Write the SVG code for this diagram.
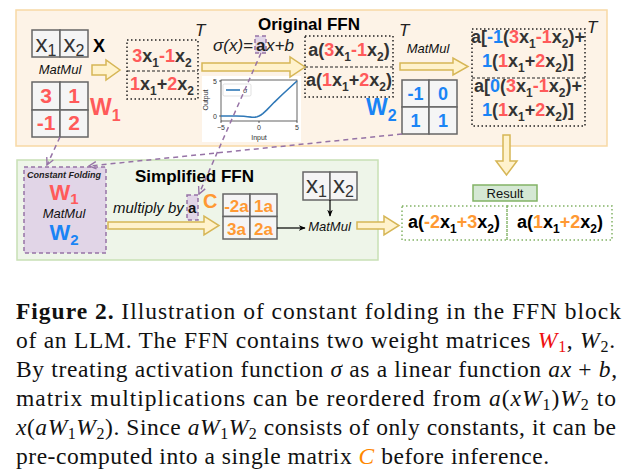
<svg xmlns="http://www.w3.org/2000/svg" width="630" height="476" viewBox="0 0 630 476">
<defs>
<style>
.panelTop{fill:#fdf3e7;stroke:#f7d9a5;stroke-width:1.5}
.panelBot{fill:#eef5e9;stroke:#c8e0b5;stroke-width:1.5}
.cell{fill:#f5f5f5;stroke:#666;stroke-width:1.5}
.dot{fill:none;stroke:#222;stroke-width:1.5;stroke-dasharray:1.5 2.5}
.dash{fill:none;stroke:#222;stroke-width:1.2;stroke-dasharray:3 2}
.gdot{fill:none;stroke:#82b366;stroke-width:1.5;stroke-dasharray:1.5 2.5}
.yarrow{fill:#fff2cc;stroke:#d6b656;stroke-width:1.5}
.purp{fill:#e1d5e7;stroke:#9673a6;stroke-width:1.5;stroke-dasharray:4 3}
.conn{fill:none;stroke:#9673a6;stroke-width:1.5;stroke-dasharray:5 4}
.blk{fill:none;stroke:#000;stroke-width:1.2}
text{font-family:"Liberation Sans",Arial,sans-serif}
.eq{font-size:18px;font-weight:bold;fill:#333}
.res{font-size:18px;font-weight:bold;fill:#000}
.xm{font-size:24px;fill:#333}
.r{fill:#ff5a5a}.b{fill:#1a84f5}.o{fill:#ff9933}
.mm{font-size:13px;font-style:italic;fill:#111}
.ttl{font-size:17px;font-weight:bold;fill:#000}
.tt{font-size:17px;font-style:italic;fill:#222}
.tick{font-size:7px;fill:#333}
text.cap{font-family:"Liberation Serif","Times New Roman",serif;font-size:23.5px;fill:#111}
.ci{font-style:italic}
</style>
<marker id="openP" viewBox="0 0 10 10" refX="9" refY="5" markerWidth="9" markerHeight="9" markerUnits="userSpaceOnUse" orient="auto">
<path d="M1,1 L9,5 L1,9" fill="none" stroke="#9673a6" stroke-width="1.5"/>
</marker>
<marker id="blkA" viewBox="0 0 10 10" refX="9" refY="5" markerWidth="7" markerHeight="7" markerUnits="userSpaceOnUse" orient="auto">
<path d="M0,1 L10,5 L0,9 L3,5 Z" fill="#000"/>
</marker>
</defs>

<g id="original-ffn-panel">
<rect class="panelTop" x="16" y="10" width="591" height="136"/>
<text class="ttl" x="258" y="30">Original FFN</text>
</g>
<g id="simplified-ffn-panel">
<rect class="panelBot" x="17" y="160" width="361" height="100"/>
<text class="ttl" x="135" y="182">Simplified FFN</text>
</g>

<g id="matrix-x">
<rect class="cell" x="32" y="30" width="28" height="27"/>
<rect class="cell" x="60" y="30" width="28" height="27"/>
<text class="xm" x="46" y="52" text-anchor="middle">x<tspan font-size="16" dy="4">1</tspan></text>
<text class="xm" x="74" y="52" text-anchor="middle">x<tspan font-size="16" dy="4">2</tspan></text>
<text x="93" y="52" font-size="18" font-weight="bold" fill="#000">X</text>
<text class="mm" x="60" y="74" text-anchor="middle">MatMul</text>
</g>

<g id="matrix-w1">
<rect class="cell" x="32" y="82" width="28" height="28"/>
<rect class="cell" x="60" y="82" width="28" height="28"/>
<rect class="cell" x="32" y="110" width="28" height="27"/>
<rect class="cell" x="60" y="110" width="28" height="27"/>
<g font-size="21" font-weight="bold" text-anchor="middle">
<text class="r" x="46" y="103">3</text>
<text class="r" x="74" y="103">1</text>
<text class="r" x="46" y="130">-1</text>
<text class="r" x="74" y="130">2</text>
</g>
<text class="r" x="90" y="115" font-size="23" font-weight="bold">W<tspan font-size="16" dy="6">1</tspan></text>
</g>

<g id="box-xw1">
<rect class="dot" x="127" y="40" width="71" height="59"/>
<line class="dash" x1="127" y1="71" x2="198" y2="71"/>
<text class="eq" x="162" y="62" text-anchor="middle"><tspan class="r">3</tspan>x<tspan font-size="12" dy="5">1</tspan><tspan class="r" dy="-5">-1</tspan>x<tspan font-size="12" dy="5">2</tspan></text>
<text class="eq" x="162" y="90" text-anchor="middle"><tspan class="r">1</tspan>x<tspan font-size="12" dy="5">1</tspan><tspan dy="-5">+</tspan><tspan class="r">2</tspan>x<tspan font-size="12" dy="5">2</tspan></text>
<text class="tt" x="195" y="36">T</text>
</g>

<g id="activation">
<text class="tt" x="213" y="51">σ(x)=</text>
<rect class="purp" x="255" y="36" width="11" height="17"/>
<text x="256" y="51" font-size="17" font-weight="bold" fill="#222">a</text>
<text class="tt" x="266" y="51">x+b</text>
</g>

<g id="activation-plot">
<rect x="202" y="76" width="99" height="66" fill="#fff"/>
<rect x="221" y="80" width="76" height="41" fill="none" stroke="#222" stroke-width="0.7"/>
<polyline fill="none" stroke="#2f78b7" stroke-width="1.6" points="221,116 228.6,116 236.2,116.03 243.8,116.32 247.6,116.7 251.4,117.11 253.3,117.19 255.2,117.08 257.1,116.69 259,116 260.9,114.95 262.8,113.58 264.7,111.94 266.6,110.11 270.4,106.2 274.2,102.3 281.8,95.03 289.4,88 297,81"/>
<g stroke="#222" stroke-width="0.7">
<line x1="219" y1="116" x2="221" y2="116"/><line x1="219" y1="81" x2="221" y2="81"/>
<line x1="221" y1="121" x2="221" y2="123"/><line x1="259" y1="121" x2="259" y2="123"/><line x1="297" y1="121" x2="297" y2="123"/>
</g>
<text class="tick" x="217" y="118.5" text-anchor="end">0</text>
<text class="tick" x="217" y="83.5" text-anchor="end">5</text>
<text class="tick" x="221" y="130" text-anchor="middle">−5</text>
<text class="tick" x="259" y="130" text-anchor="middle">0</text>
<text class="tick" x="297" y="130" text-anchor="middle">5</text>
<text class="tick" x="259" y="139.5" text-anchor="middle">Input</text>
<text class="tick" transform="translate(208,100) rotate(-90)" text-anchor="middle">Output</text>
<rect x="223" y="84" width="28" height="12" rx="1.5" fill="#fff" stroke="#ccc" stroke-width="0.6"/>
<line x1="226" y1="90" x2="240" y2="90" stroke="#2f78b7" stroke-width="1.6"/>
<text class="tick" x="243" y="92.5">σ</text>
</g>

<g id="box-sigma">
<rect class="dot" x="305" y="36" width="88" height="61"/>
<line class="dash" x1="305" y1="67" x2="393" y2="67"/>
<text class="eq" x="349" y="56" text-anchor="middle">a(<tspan class="r">3</tspan>x<tspan font-size="12" dy="5">1</tspan><tspan class="r" dy="-5">-1</tspan>x<tspan font-size="12" dy="5">2</tspan><tspan dy="-5">)</tspan></text>
<text class="eq" x="349" y="86" text-anchor="middle">a(<tspan class="r">1</tspan>x<tspan font-size="12" dy="5">1</tspan><tspan dy="-5">+</tspan><tspan class="r">2</tspan>x<tspan font-size="12" dy="5">2</tspan><tspan dy="-5">)</tspan></text>
<text class="tt" x="399" y="36">T</text>
</g>

<g id="matrix-w2">
<rect class="cell" x="402" y="80" width="27" height="27"/>
<rect class="cell" x="429" y="80" width="28" height="27"/>
<rect class="cell" x="402" y="107" width="27" height="27"/>
<rect class="cell" x="429" y="107" width="28" height="27"/>
<g font-size="18" font-weight="bold" text-anchor="middle">
<text class="b" x="415.5" y="100">-1</text>
<text class="b" x="443" y="100">0</text>
<text class="b" x="415.5" y="127">1</text>
<text class="b" x="443" y="127">1</text>
</g>
<text class="b" x="366" y="115" font-size="23" font-weight="bold">W<tspan font-size="16" dy="6">2</tspan></text>
<text class="mm" x="428" y="53" text-anchor="middle">MatMul</text>
</g>

<g id="box-output">
<rect class="dot" x="472" y="29" width="113" height="97"/>
<line class="dash" x1="472" y1="78" x2="585" y2="78"/>
<text class="eq" x="528" y="43" text-anchor="middle">a[<tspan class="b">-1</tspan>(<tspan class="r">3</tspan>x<tspan font-size="12" dy="5">1</tspan><tspan class="r" dy="-5">-1</tspan>x<tspan font-size="12" dy="5">2</tspan><tspan dy="-5">)+</tspan></text>
<text class="eq" x="528" y="67" text-anchor="middle"><tspan class="b">1</tspan>(<tspan class="r">1</tspan>x<tspan font-size="12" dy="5">1</tspan><tspan dy="-5">+</tspan><tspan class="r">2</tspan>x<tspan font-size="12" dy="5">2</tspan><tspan dy="-5">)]</tspan></text>
<text class="eq" x="528" y="92" text-anchor="middle">a[<tspan class="b">0</tspan>(<tspan class="r">3</tspan>x<tspan font-size="12" dy="5">1</tspan><tspan class="r" dy="-5">-1</tspan>x<tspan font-size="12" dy="5">2</tspan><tspan dy="-5">)+</tspan></text>
<text class="eq" x="528" y="116" text-anchor="middle"><tspan class="b">1</tspan>(<tspan class="r">1</tspan>x<tspan font-size="12" dy="5">1</tspan><tspan dy="-5">+</tspan><tspan class="r">2</tspan>x<tspan font-size="12" dy="5">2</tspan><tspan dy="-5">)]</tspan></text>
<text class="tt" x="587" y="33">T</text>
</g>

<g id="constant-folding">
<rect class="purp" x="24" y="167" width="82" height="86"/>
<text x="64" y="178" text-anchor="middle" font-size="9" font-weight="bold" font-style="italic" fill="#222">Constant Folding</text>
<text class="r" x="64" y="200" text-anchor="middle" font-size="22" font-weight="bold">W<tspan font-size="15" dy="4">1</tspan></text>
<text class="mm" x="64" y="218" text-anchor="middle">MatMul</text>
<text class="b" x="64" y="240" text-anchor="middle" font-size="22" font-weight="bold">W<tspan font-size="15" dy="5">2</tspan></text>
</g>

<g id="multiply">
<text x="113" y="213" font-size="15" font-style="italic" fill="#111">multiply by</text>
<rect class="purp" x="187" y="195" width="11" height="25"/>
<text x="188" y="213" font-size="15" font-weight="bold" fill="#111">a</text>
<text class="o" x="203" y="208" font-size="20" font-weight="bold">C</text>
</g>

<g id="matrix-c">
<rect class="cell" x="223" y="194" width="27" height="22.5"/>
<rect class="cell" x="250" y="194" width="27" height="22.5"/>
<rect class="cell" x="223" y="216.5" width="27" height="22.5"/>
<rect class="cell" x="250" y="216.5" width="27" height="22.5"/>
<g font-size="17" font-weight="bold" text-anchor="middle">
<text class="o" x="236.5" y="212">-2a</text>
<text class="o" x="263.5" y="212">1a</text>
<text class="o" x="236.5" y="234.5">3a</text>
<text class="o" x="263.5" y="234.5">2a</text>
</g>
</g>

<g id="matrix-x-bottom">
<rect class="cell" x="303" y="172" width="27" height="28"/>
<rect class="cell" x="330" y="172" width="27" height="28"/>
<text class="xm" x="316.5" y="193" text-anchor="middle">x<tspan font-size="16" dy="4">1</tspan></text>
<text class="xm" x="343.5" y="193" text-anchor="middle">x<tspan font-size="16" dy="4">2</tspan></text>
</g>
<g id="matmul-bottom">
<text class="mm" x="329.5" y="231" text-anchor="middle">MatMul</text>
</g>

<g id="result">
<rect x="473" y="185" width="64" height="16" fill="#d5e8d4" stroke="#82b366" stroke-width="1.5"/>
<text x="505" y="197.5" text-anchor="middle" font-size="13" fill="#111">Result</text>
<rect class="gdot" x="402" y="206" width="105" height="34"/>
<rect class="gdot" x="507" y="206" width="105" height="34"/>
<text class="res" x="454" y="228" text-anchor="middle">a(<tspan class="o">-2</tspan>x<tspan font-size="12" dy="5">1</tspan><tspan class="o" dy="-5">+3</tspan>x<tspan font-size="12" dy="5">2</tspan><tspan dy="-5">)</tspan></text>
<text class="res" x="560" y="228" text-anchor="middle">a(<tspan class="o">1</tspan>x<tspan font-size="12" dy="5">1</tspan><tspan class="o" dy="-5">+2</tspan>x<tspan font-size="12" dy="5">2</tspan><tspan dy="-5">)</tspan></text>
</g>

<g id="connectors">
<path class="yarrow" d="M92,65 L106,65 L106,60 L120,70 L106,80 L106,75 L92,75 Z"/>
<path class="yarrow" d="M202,63 L290,63 L290,57 L305,67 L290,77 L290,71 L202,71 Z"/>
<path class="yarrow" d="M400,63 L453,63 L453,58 L468,66.5 L453,75 L453,70 L400,70 Z"/>
<path class="yarrow" d="M503,135 L510,135 L510,161 L517,161 L506.5,175 L496,161 L503,161 Z"/>
<path class="yarrow" d="M108,222 L204,222 L204,216 L219,225.5 L204,235 L204,229 L108,229 Z"/>
<path class="yarrow" d="M357,222 L384,222 L384,216 L399,225.5 L384,235 L384,229 L357,229 Z"/>
<path class="conn" d="M60,137 L47,165" marker-end="url(#openP)"/>
<path class="conn" d="M402,134 L89,166" marker-end="url(#openP)"/>
<path class="conn" d="M261,53 L199,194" marker-end="url(#openP)"/>
<path class="blk" d="M277,228 L305,228" marker-end="url(#blkA)"/>
<path class="blk" d="M330,200 L330,216" marker-end="url(#blkA)"/>
</g>

<g id="caption">
<text class="cap" x="16" y="319" textLength="605"><tspan font-weight="bold">Figure 2.</tspan> Illustration of constant folding in the FFN block</text>
<text class="cap" x="16" y="348" textLength="599">of an LLM. The FFN contains two weight matrices <tspan class="ci" fill="#ee1111">W</tspan><tspan fill="#ee1111" font-size="16" dy="4">1</tspan><tspan dy="-4">, </tspan><tspan class="ci">W</tspan><tspan font-size="16" dy="4">2</tspan><tspan dy="-4">.</tspan></text>
<text class="cap" x="16" y="377" textLength="601">By treating activation function <tspan class="ci">σ</tspan> as a linear function <tspan class="ci">ax</tspan> + <tspan class="ci">b</tspan>,</text>
<text class="cap" x="16" y="406" textLength="600">matrix multiplications can be reordered from <tspan class="ci">a</tspan>(<tspan class="ci">xW</tspan><tspan font-size="16" dy="4">1</tspan><tspan dy="-4">)</tspan><tspan class="ci">W</tspan><tspan font-size="16" dy="4">2</tspan><tspan dy="-4"> to</tspan></text>
<text class="cap" x="16" y="435" textLength="600"><tspan class="ci">x</tspan>(<tspan class="ci">aW</tspan><tspan font-size="16" dy="4">1</tspan><tspan class="ci" dy="-4">W</tspan><tspan font-size="16" dy="4">2</tspan><tspan dy="-4">). Since </tspan><tspan class="ci">aW</tspan><tspan font-size="16" dy="4">1</tspan><tspan class="ci" dy="-4">W</tspan><tspan font-size="16" dy="4">2</tspan><tspan dy="-4"> consists of only constants, it can be</tspan></text>
<text class="cap" x="16" y="464" textLength="533">pre-computed into a single matrix <tspan class="ci" fill="#ff8800">C</tspan> before inference.</text>
</g>
</svg>
